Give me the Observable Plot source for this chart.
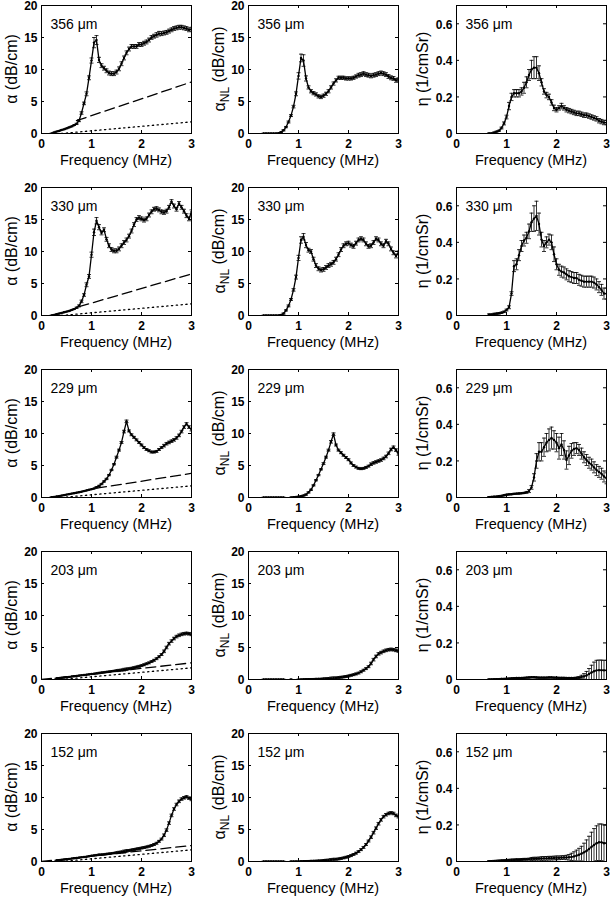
<!DOCTYPE html>
<html><head><meta charset="utf-8">
<script src="https://cdn.jsdelivr.net/npm/d3@7"></script>
<script src="https://cdn.jsdelivr.net/npm/@observablehq/plot@0.6"></script>
<style>
body{margin:0;background:#fff}
#root{position:relative;width:610px;height:900px;background:#fff;font-family:"Liberation Sans",Arial,Helvetica,sans-serif}
#root svg{position:absolute;overflow:visible}
</style></head><body><div id="root"></div>
<script>
// ---------------- DATA ----------------
const freq = [0.20,0.25,0.30,0.35,0.40,0.45,0.50,0.55,0.60,0.65,
 0.70,0.75,0.80,0.85,0.90,0.95,1.00,1.05,1.10,1.15,
 1.20,1.25,1.30,1.35,1.40,1.45,1.50,1.55,1.60,1.65,
 1.70,1.75,1.80,1.85,1.90,1.95,2.00,2.05,2.10,2.15,
 2.20,2.25,2.30,2.35,2.40,2.45,2.50,2.55,2.60,2.65,
 2.70,2.75,2.80,2.85,2.90,2.95,3.00];
const sizes = ["356 μm","330 μm","229 μm","203 μm","152 μm"];
const xTicks = [0,1,2,3];
const alphaTicks = [0,5,10,15,20];
const etaTicks = [0,0.2,0.4,0.6];

// alpha (dB/cm), column 1
const a356 = [0.00,0.15,0.30,0.40,0.55,0.65,0.80,0.95,1.10,1.30,
 1.50,2.00,3.20,4.70,6.20,8.70,11.4,14.2,14.6,11.5,
 10.6,10.2,9.80,9.45,9.35,9.35,9.60,10.1,10.9,11.8,
 12.6,13.2,13.6,13.6,13.6,13.9,13.9,14.1,14.3,14.6,
 15.0,15.2,15.4,15.6,15.6,15.7,15.8,16.0,16.2,16.4,
 16.5,16.6,16.6,16.5,16.4,16.2,16.3];
const a330 = [0.00,0.10,0.20,0.30,0.40,0.50,0.60,0.70,0.85,1.00,
 1.20,1.50,2.20,3.20,4.80,6.10,9.50,13.0,14.8,13.8,
 12.9,13.4,11.9,10.9,10.3,10.1,10.1,10.4,10.9,11.4,
 11.8,12.4,13.2,14.2,15.0,15.3,15.1,14.9,15.1,15.7,
 16.2,16.6,16.7,16.5,16.2,16.1,16.3,16.9,17.8,17.1,
 16.6,17.5,16.9,16.3,15.6,15.1,16.2];
const a229 = [0.05,0.10,0.15,0.22,0.30,0.37,0.45,0.52,0.60,0.67,
 0.75,0.82,0.90,1.00,1.10,1.20,1.30,1.40,1.60,1.80,
 2.10,2.50,2.90,3.50,4.30,5.20,6.30,7.40,8.60,10.3,
 11.9,10.4,9.80,9.40,9.00,8.60,8.20,7.80,7.50,7.30,
 7.10,7.10,7.20,7.50,7.80,8.10,8.40,8.60,8.80,9.00,
 9.30,9.70,10.3,11.0,11.5,11.0,10.6];
const a203 = [null,null,0.15,0.20,0.25,0.30,0.35,0.40,0.45,0.50,
 0.55,0.60,0.65,0.70,0.75,0.80,0.85,0.90,0.95,1.01,
 1.07,1.12,1.17,1.22,1.28,1.33,1.38,1.43,1.48,1.54,
 1.60,1.68,1.76,1.85,1.95,2.05,2.17,2.30,2.45,2.60,
 2.80,3.00,3.25,3.55,3.90,4.40,5.00,5.60,6.00,6.40,
 6.70,6.90,7.05,7.15,7.20,7.15,7.05];
const a152 = [null,null,0.15,0.20,0.25,0.30,0.35,0.40,0.45,0.50,
 0.55,0.60,0.65,0.70,0.75,0.82,0.90,0.95,1.00,1.05,
 1.08,1.12,1.17,1.22,1.27,1.32,1.38,1.44,1.50,1.57,
 1.65,1.72,1.80,1.87,1.95,2.02,2.10,2.18,2.27,2.37,
 2.50,2.65,2.85,3.15,3.50,4.10,4.90,6.00,7.20,8.20,
 8.90,9.40,9.75,9.95,10.1,9.90,9.70];

// alpha_NL (dB/cm), column 2
const n356 = [null,null,0,0,0,0,0,0,0.05,0.2,
 0.5,1.0,1.8,2.8,4.2,6.2,9.0,11.8,11.4,8.6,
 7.2,6.6,6.3,6.1,5.8,5.7,5.9,6.2,6.6,7.2,
 7.8,8.3,8.7,8.7,8.7,8.6,8.6,8.6,8.7,8.9,
 9.1,9.2,9.35,9.2,9.1,9.0,9.1,9.2,9.35,9.45,
 9.35,9.2,8.9,8.7,8.6,8.3,8.4];
const n330 = [null,null,0,0,0,0,0,0,0,0.1,
 0.3,0.8,1.5,2.5,4.0,6.0,9.0,11.8,12.3,11.0,
 10.2,10.0,8.8,7.8,7.3,7.1,7.2,7.5,7.8,8.0,
 8.3,8.8,9.5,10.3,10.9,11.2,11.3,11.0,10.8,11.3,
 11.8,12.0,11.8,11.2,10.8,10.9,11.4,12.0,11.8,11.2,
 10.9,11.6,11.2,10.4,9.8,9.3,9.8];
const n229 = [null,null,0,0,0,0,0,0,0,0,
 0,null,null,0,0.05,0.1,0.15,0.2,0.3,0.45,
 0.8,1.2,1.9,2.7,3.5,4.4,5.3,6.3,7.4,8.7,
 9.9,8.2,7.4,7.0,6.6,6.25,5.9,5.4,5.0,4.75,
 4.55,4.5,4.55,4.7,4.9,5.2,5.4,5.55,5.7,5.85,
 6.1,6.4,6.9,7.5,7.85,7.4,6.8];
const n203 = [null,null,0,0,0,0,0,0,0,0,
 0,null,null,0,null,null,0,0,0.02,0.03,
 0.04,0.05,0.06,0.07,0.08,0.09,0.10,0.12,0.15,0.17,
 0.20,0.25,0.30,0.35,0.40,0.47,0.55,0.65,0.75,0.87,
 1.00,1.20,1.45,1.70,2.00,2.50,3.10,3.60,4.00,4.20,
 4.40,4.55,4.65,4.70,4.65,4.55,4.45];
const n152 = [null,null,0,0,0,0,0,0,0,0,
 0,null,null,0,0,0.01,0.02,0.03,0.04,0.05,
 0.06,0.07,0.08,0.10,0.12,0.14,0.16,0.19,0.22,0.26,
 0.30,0.35,0.40,0.48,0.56,0.66,0.78,0.92,1.10,1.30,
 1.55,1.85,2.20,2.65,3.20,3.80,4.50,5.20,5.90,6.50,
 7.00,7.30,7.50,7.60,7.50,7.20,7.00];

// eta (1/cmSr), column 3
const h356 = [null,null,null,null,null,null,null,null,null,0.000,
 0.000,0.005,0.010,0.015,0.030,0.055,0.090,0.150,0.200,0.220,
 0.220,0.220,0.230,0.250,0.280,0.320,0.350,0.360,0.360,0.330,
 0.280,0.230,0.210,0.200,0.170,0.140,0.130,0.140,0.150,0.140,
 0.130,0.125,0.120,0.115,0.110,0.110,0.105,0.100,0.100,0.095,
 0.090,0.085,0.080,0.070,0.065,0.060,0.060];
const h330 = [null,null,null,null,null,null,null,null,null,0.005,
 0.005,0.008,0.010,0.012,0.015,0.020,0.030,0.045,0.120,0.270,
 0.280,0.330,0.380,0.410,0.425,0.460,0.510,0.530,0.545,0.500,
 0.415,0.380,0.400,0.415,0.400,0.335,0.280,0.250,0.240,0.235,
 0.225,0.215,0.210,0.205,0.205,0.195,0.190,0.185,0.185,0.185,
 0.185,0.180,0.170,0.155,0.140,0.120,0.120];
const h229 = [null,null,null,null,null,null,null,null,null,0.002,
 0.003,0.004,0.005,0.007,0.009,0.012,0.015,0.017,0.018,0.020,
 0.021,0.022,0.023,0.025,0.028,0.035,0.055,0.110,0.200,0.250,
 0.250,0.275,0.300,0.315,0.325,0.315,0.300,0.270,0.290,0.260,
 0.205,0.230,0.255,0.265,0.270,0.260,0.240,0.220,0.205,0.190,
 0.180,0.165,0.150,0.140,0.130,0.115,0.105];
const h203 = [null,null,null,null,null,null,null,null,null,0.000,
 0.000,0.001,0.002,0.002,0.003,0.003,0.004,0.005,0.006,0.007,
 0.008,0.008,0.008,0.009,0.010,0.011,0.012,0.012,0.011,0.010,
 0.010,0.010,0.010,0.011,0.011,0.010,0.010,0.009,0.009,0.009,
 0.008,0.008,0.008,0.008,0.009,0.010,0.013,0.017,0.022,0.030,
 0.038,0.045,0.050,0.051,0.051,0.050,0.050];
const h152 = [null,null,null,null,null,null,null,null,null,0.000,
 0.000,0.001,0.002,0.003,0.004,0.005,0.006,0.007,0.008,0.009,
 0.010,0.010,0.011,0.012,0.012,0.013,0.014,0.015,0.015,0.016,
 0.016,0.017,0.017,0.018,0.018,0.019,0.020,0.020,0.021,0.022,
 0.022,0.023,0.025,0.028,0.032,0.037,0.043,0.050,0.058,0.068,
 0.080,0.090,0.100,0.105,0.105,0.100,0.100];

// error bar half-lengths
const e356a = [0.05,0.05,0.05,0.05,0.05,0.05,0.05,0.05,0.05,0.05,
 0.10,0.15,0.20,0.20,0.30,0.30,0.40,0.80,0.70,0.40,
 0.30,0.30,0.30,0.30,0.30,0.30,0.30,0.30,0.30,0.30,
 0.30,0.30,0.30,0.30,0.30,0.30,0.30,0.30,0.30,0.30,
 0.30,0.30,0.35,0.35,0.30,0.30,0.30,0.30,0.30,0.30,
 0.30,0.30,0.30,0.30,0.30,0.30,0.30];
const e330a = [0.05,0.05,0.05,0.05,0.05,0.05,0.05,0.05,0.05,0.05,
 0.10,0.15,0.20,0.20,0.30,0.30,0.40,0.50,0.50,0.40,
 0.30,0.30,0.30,0.30,0.30,0.30,0.30,0.30,0.30,0.30,
 0.30,0.30,0.30,0.30,0.30,0.30,0.30,0.30,0.30,0.30,
 0.30,0.30,0.30,0.30,0.30,0.30,0.30,0.30,0.30,0.30,
 0.30,0.30,0.30,0.30,0.30,0.30,0.30];
const e356n = [0,0,0.05,0.05,0.05,0.05,0.05,0.05,0.05,0.05,
 0.10,0.10,0.15,0.15,0.20,0.30,0.50,0.60,0.90,0.40,
 0.25,0.25,0.25,0.25,0.25,0.25,0.25,0.25,0.25,0.25,
 0.25,0.25,0.25,0.25,0.25,0.25,0.25,0.25,0.25,0.25,
 0.30,0.30,0.30,0.30,0.30,0.30,0.30,0.30,0.30,0.30,
 0.30,0.30,0.30,0.30,0.30,0.30,0.30];
const e330n = [0,0,0.05,0.05,0.05,0.05,0.05,0.05,0.05,0.05,
 0.10,0.10,0.15,0.15,0.20,0.30,0.40,0.50,0.50,0.40,
 0.30,0.30,0.30,0.30,0.30,0.30,0.30,0.30,0.30,0.30,
 0.30,0.30,0.30,0.30,0.30,0.30,0.30,0.30,0.30,0.30,
 0.30,0.30,0.30,0.30,0.30,0.30,0.30,0.30,0.30,0.30,
 0.30,0.30,0.30,0.30,0.30,0.30,0.30];
const eLow = [0.05,0.05,0.05,0.05,0.05,0.05,0.05,0.05,0.05,0.05,
 0.05,0.05,0.05,0.05,0.05,0.05,0.05,0.05,0.10,0.10,
 0.10,0.10,0.10,0.10,0.10,0.10,0.15,0.15,0.15,0.20,
 0.20,0.15,0.15,0.15,0.15,0.15,0.15,0.15,0.15,0.15,
 0.15,0.15,0.15,0.15,0.15,0.20,0.20,0.20,0.20,0.20,
 0.20,0.20,0.20,0.20,0.20,0.20,0.20];
const e356h = [0,0,0,0,0,0,0,0,0,0.003,
 0.003,0.003,0.003,0.003,0.005,0.008,0.010,0.020,0.020,0.020,
 0.020,0.020,0.020,0.030,0.030,0.030,0.050,0.060,0.060,0.040,
 0.020,0.015,0.015,0.015,0.015,0.015,0.012,0.012,0.015,0.012,
 0.012,0.012,0.012,0.012,0.012,0.012,0.012,0.012,0.012,0.012,
 0.012,0.012,0.012,0.012,0.012,0.012,0.012];
const e330h = [0,0,0,0,0,0,0,0,0,0.004,
 0.004,0.004,0.004,0.004,0.004,0.004,0.005,0.008,0.010,0.030,
 0.030,0.030,0.030,0.030,0.030,0.040,0.050,0.070,0.080,0.060,
 0.040,0.030,0.030,0.030,0.040,0.040,0.030,0.030,0.030,0.030,
 0.030,0.030,0.030,0.030,0.030,0.030,0.030,0.030,0.030,0.030,
 0.030,0.030,0.030,0.030,0.030,0.030,0.030];
const e229h = [0,0,0,0,0,0,0,0,0,0.003,
 0.003,0.003,0.003,0.003,0.003,0.003,0.003,0.003,0.003,0.003,
 0.003,0.003,0.003,0.003,0.005,0.008,0.010,0.020,0.040,0.050,
 0.050,0.050,0.050,0.060,0.060,0.050,0.050,0.060,0.060,0.050,
 0.050,0.050,0.040,0.035,0.030,0.030,0.030,0.030,0.030,0.030,
 0.030,0.030,0.030,0.030,0.030,0.030,0.030];
const e203h = [0,0,0,0,0,0,0,0,0,0.003,
 0.003,0.003,0.003,0.003,0.003,0.003,0.003,0.003,0.003,0.003,
 0.003,0.003,0.003,0.003,0.003,0.003,0.003,0.003,0.003,0.003,
 0.003,0.003,0.003,0.003,0.003,0.003,0.003,0.003,0.003,0.003,
 0.003,0.003,0.003,0.003,0.004,0.006,0.010,0.015,0.022,0.030,
 0.040,0.050,0.055,0.055,0.055,0.055,0.055];
const e152h = [0,0,0,0,0,0,0,0,0,0.005,
 0.005,0.005,0.005,0.005,0.005,0.005,0.005,0.005,0.005,0.005,
 0.005,0.005,0.005,0.005,0.005,0.005,0.008,0.008,0.008,0.008,
 0.010,0.010,0.010,0.010,0.010,0.010,0.010,0.010,0.010,0.010,
 0.012,0.015,0.020,0.025,0.030,0.035,0.040,0.050,0.060,0.070,
 0.080,0.090,0.095,0.100,0.100,0.100,0.100];

// linear (dashed) and background (dotted) attenuation, column 1
const dashedF = [[0.70,3],[0.75,3],[1.10,3],[0,3],[0,3]];
const dashedA = [[2.0,8.05],[1.37,6.5],[1.45,3.77],[0,2.6],[0,2.5]];
const dottedF = [0.40,3];
const dottedA = [0,1.82];

// ---------------- LAYOUT ----------------
const rowTop = [5,187,369,551,733];
const colLeft = [41,248,456];
const W = 150, H = 128, ML = 48, MR = 8, MT = 6, MB = 44;
const FONT = '"Liberation Sans", Arial, Helvetica, sans-serif';
const yLabelX = [-24, -23, -28];

const series = [
  [a356, e356a, n356, e356n, h356, e356h],
  [a330, e330a, n330, e330n, h330, e330h],
  [a229, eLow, n229, eLow, h229, e229h],
  [a203, eLow, n203, eLow, h203, e203h],
  [a152, eLow, n152, eLow, h152, e152h]
];

const capSym = {draw(ctx){ ctx.moveTo(-2,0); ctx.lineTo(2,0); }};
const root = document.getElementById("root");

for (let r = 0; r < 5; r++) {
  for (let c = 0; c < 3; c++) {
    const vals = series[r][c*2], errs = series[r][c*2+1];
    const all = freq.map((f,i) => ({f, v: vals[i], e: errs[i]}));
    const pts = all.filter(d => d.v != null);
    const isEta = c === 2;
    const yTicks = isEta ? etaTicks : alphaTicks;
    const marks = [
      Plot.ruleX(pts, {x:"f", y1: d => d.v - d.e, y2: d => d.v + d.e, stroke:"#000", strokeWidth:0.8, clip:true}),
      Plot.dot(pts, {x:"f", y: d => d.v + d.e, symbol: capSym, stroke:"#000", fill:"none", strokeWidth:0.8, clip:true}),
      Plot.dot(pts, {x:"f", y: d => d.v - d.e, symbol: capSym, stroke:"#000", fill:"none", strokeWidth:0.8, clip:true}),
      Plot.line(all, {x:"f", y:"v", stroke:"#000", strokeWidth:1.3, clip:true}),
      Plot.dot(pts, {x:"f", y:"v", r:1.2, fill:"#000", stroke:"none", clip:true})
    ];
    if (c === 0) {
      marks.unshift(
        Plot.line(dashedF[r].map((f,i) => ({f, v: dashedA[r][i]})), {x:"f", y:"v", stroke:"#000", strokeWidth:1.3, strokeDasharray:"10,5", clip:true}),
        Plot.line(dottedF.map((f,i) => ({f, v: dottedA[i]})), {x:"f", y:"v", stroke:"#000", strokeWidth:1.3, strokeDasharray:"1.3,3.5", clip:true})
      );
    }
    marks.push(
      Plot.frame({stroke:"#000", strokeWidth:1}),
      Plot.tickX(xTicks, {x: d => d, insetTop: H - 3, stroke:"#000"}),
      Plot.tickX(xTicks, {x: d => d, insetBottom: H - 3, stroke:"#000"}),
      Plot.tickY(yTicks, {y: d => d, insetRight: W - 3, stroke:"#000"}),
      Plot.tickY(yTicks, {y: d => d, insetLeft: W - 3, stroke:"#000"}),
      Plot.axisX(xTicks, {tickSize:0, tickPadding:6, fontSize:12, fontWeight:"bold", label:null, tickFormat: d => `${d}`}),
      Plot.axisY(yTicks, {tickSize:0, tickPadding:4, fontSize:12, fontWeight:"bold", label:null, tickFormat: d => `${d}`, dy:1}),
      Plot.text([sizes[r]], {text: d => d, frameAnchor:"top-left", dx:9, dy:14, lineAnchor:"top", textAnchor:"start", fontSize:14, fill:"#000"})
    );
    const svg = Plot.plot({
      width: ML + W + MR, height: MT + H + MB,
      marginLeft: ML, marginRight: MR, marginTop: MT, marginBottom: MB,
      x: {domain:[0,3]},
      y: {domain: isEta ? [0,0.7] : [0,20]},
      style: {fontFamily: FONT, color:"#000", background:"transparent", overflow:"visible"},
      marks
    });
    svg.style.left = (colLeft[c] - ML) + "px";
    svg.style.top = (rowTop[r] - MT) + "px";
    const s = d3.select(svg);
    s.append("text")
      .attr("x", ML + W/2).attr("y", MT + H + 32)
      .attr("text-anchor", "middle")
      .style("font-size", "14.5px").style("font-family", FONT).attr("fill", "#000")
      .text("Frequency (MHz)");
    const yl = s.append("text")
      .attr("transform", `translate(${ML + yLabelX[c]},${MT + H/2}) rotate(-90)`)
      .attr("text-anchor", "middle")
      .style("font-size", "16px").style("font-family", FONT).attr("fill", "#000");
    if (c === 0) yl.text("α (dB/cm)");
    else if (c === 2) yl.text("η (1/cmSr)");
    else {
      yl.append("tspan").text("α");
      yl.append("tspan").attr("dy", "0.3em").style("font-size", "12px").text("NL");
      yl.append("tspan").attr("dy", "-0.3em").text(" (dB/cm)");
    }
    root.appendChild(svg);
  }
}
</script></body></html>
